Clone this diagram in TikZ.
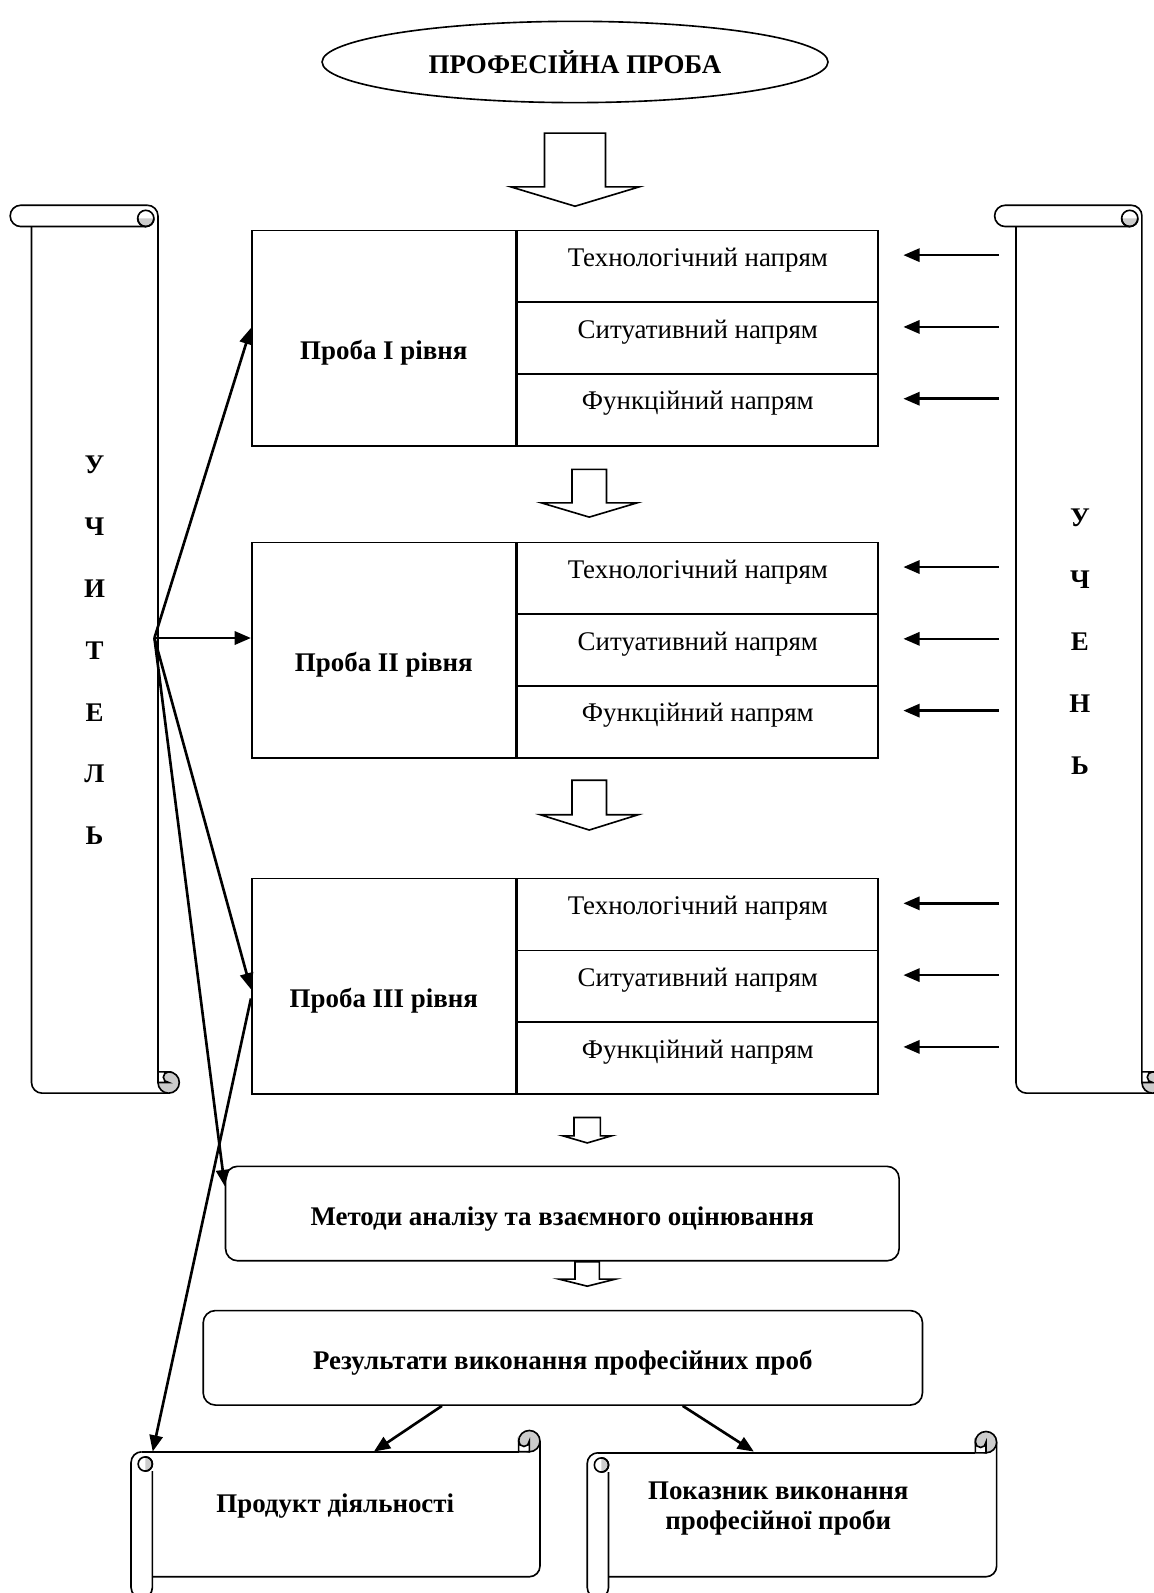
\documentclass[tikz,border=0pt]{standalone}
\usepackage{fontspec}
\setmainfont{Liberation Serif}
\usetikzlibrary{shapes.geometric,arrows.meta}
\definecolor{curlgray}{rgb}{0.8, 0.8, 0.8}

\newcommand{\schfont}{\fontsize{26.5}{31}\selectfont}
% roll sizes of the scrolls
\def\rollw{21}
\def\rollh{10.5}
\def\rollq{5.25}

% block arrow down: centre x, top, stem half width, shoulder, head half width, tip
\newcommand{\blockdown}[6]{%
  \draw[blk] ({#1-#3},#2) -- ({#1+#3},#2) -- ({#1+#3},#4) -- ({#1+#5},#4)
    -- (#1,#6) -- ({#1-#5},#4) -- ({#1-#3},#4) -- cycle;}

% vertical scroll: left, top, right, bottom
\newcommand{\vscroll}[4]{%
  \draw[scr] ({#1+\rollw},{#2+\rollw}) -- ({#1+\rollw},{#4-\rollh})
    arc[start angle=180,end angle=270,radius=\rollh pt] -- ({#3-\rollh},#4);
  \draw[scr] ({#3-\rollw-\rollh},#2) arc[start angle=90,end angle=0,radius=\rollh pt]
    -- ({#3-\rollw},{#4-\rollh});
  \draw[scr] ({#3-\rollw-\rollh},#2) -- ({#1+\rollh},#2)
    arc[start angle=90,end angle=270,radius=\rollh pt] -- ({#3-\rollw-12},{#2+\rollw});
  \filldraw[scr,fill=curlgray] ({#3-\rollw-20},{#2+\rollw-8}) arc[start angle=180,end angle=360,radius=8pt];
  \draw[scr] ({#3-\rollw-12},{#2+\rollw-8}) circle[radius=8pt];
  \filldraw[scr,fill=curlgray] ({#3-\rollh},{#4-\rollh}) circle[radius=\rollh pt];
  \filldraw[scr,fill=white] ({#3-\rollw},{#4-\rollh}) -- ({#3-\rollw},{#4-\rollw}) -- ({#3-\rollh},{#4-\rollw})
    arc[start angle=90,end angle=270,radius=\rollq pt] -- cycle;}

% horizontal scroll: left, top, right, bottom
\newcommand{\hscroll}[4]{%
  \draw[scr] ({#1+\rollh},{#2+\rollw}) -- ({#3-\rollw},{#2+\rollw});
  \draw[scr] (#3,{#2+\rollh}) -- (#3,{#4-\rollw-\rollh})
    arc[start angle=0,end angle=-90,radius=\rollh pt] -- ({#1+\rollw},{#4-\rollw});
  \draw[scr] ({#1+\rollw},{#2+\rollw+19}) -- ({#1+\rollw},{#4-\rollh})
    arc[start angle=0,end angle=-180,radius=\rollh pt] -- (#1,{#2+\rollw+\rollh})
    arc[start angle=180,end angle=90,radius=\rollh pt];
  \filldraw[scr,fill=curlgray] ({#1+\rollw-7},{#2+\rollw+5}) arc[start angle=90,end angle=-90,radius=7pt];
  \draw[scr] ({#1+\rollw-7},{#2+\rollw+12}) circle[radius=7pt];
  \filldraw[scr,fill=curlgray] ({#3-\rollh},{#2+\rollh}) circle[radius=\rollh pt];
  \filldraw[scr,fill=white] ({#3-\rollh},{#2+\rollw}) -- ({#3-\rollw},{#2+\rollw}) -- ({#3-\rollw},{#2+\rollh})
    arc[start angle=180,end angle=360,radius=\rollq pt] -- cycle;}

\begin{document}
\begin{tikzpicture}[x=1pt,y=-1pt,
  bx/.style={draw,line width=1.6pt,inner sep=0pt,font=\schfont},
  rowbox/.style={bx,minimum width=355pt,minimum height=70.67pt,text height=12pt,text depth=12pt},
  rbox/.style={bx,rounded corners=12pt,minimum height=93pt,text height=30pt,text depth=7pt,font=\schfont\bfseries},
  hd/.style={inner sep=0pt,font=\schfont\bfseries},
  arr/.style={line width=2.6pt,-{Triangle[length=16pt,width=13pt]}},
  blk/.style={line width=1.6pt},
  scr/.style={line width=1.6pt}]
\useasboundingbox[fill=white] (0,0) rectangle (1135,1568);

% scrolls
\vscroll{10}{202}{176.5}{1076}
\vscroll{979}{202}{1145}{1076}
\hscroll{129}{1408}{531.5}{1573}
\hscroll{578}{1409}{981}{1573}

\node[draw,ellipse,line width=1.6pt,minimum width=498pt,minimum height=80pt,font=\schfont\bfseries] (title) at (566,61) {ПРОФЕСІЙНА ПРОБА};

% the three levels
\foreach \n/\y/\lv in {1/226/I,2/533/II,3/864/III}{
  \node[bx,minimum width=260pt,minimum height=212pt,anchor=north west] (p\n) at (247,\y) {};
  \node[hd,anchor=base] (p\n-t) at ([yshift=-21pt]p\n.center) {Проба \lv\ рівня};
  \foreach \k/\w in {1/Технологічний,2/Ситуативний,3/Функційний}
    \node[rowbox,anchor=north west] (p\n-\k) at ([yshift={-(\k-1)*70.67pt}]p\n.north east) {\w\ напрям};
}

\node[rbox,minimum width=663pt] (metody) at (553.5,1194.5) {Методи аналізу та взаємного оцінювання};
\node[rbox,minimum width=708pt] (rez) at (554,1336.5) {Результати виконання професійних проб};

\node[inner sep=0pt,minimum width=381pt,minimum height=123pt] (prod) at (341,1490.5) {};
\node[hd] (prod-t) at (330,1482) {Продукт діяльності};
\node[inner sep=0pt,minimum width=382pt,minimum height=123pt] (pokaz) at (790,1490.5) {};
\node[hd,align=center,font=\fontsize{26.5}{30}\selectfont\bfseries] (pokaz-t) at (766,1485) {Показник виконання\\професійної проби};

\node[hd,align=center,font=\fontsize{26.5}{61}\selectfont\bfseries] (uchytel) at (93,640) {У\\Ч\\И\\Т\\Е\\Л\\Ь};
\node[hd,align=center,font=\fontsize{26.5}{61}\selectfont\bfseries] (uchen) at (1063,632) {У\\Ч\\Е\\Н\\Ь};
\coordinate (hub) at (152,628);

% block arrows
\blockdown{566}{131}{30}{184}{63}{203}
\blockdown{580}{462}{17}{495}{47}{509}
\blockdown{580}{768}{17}{802}{48}{817}
\blockdown{578}{1100}{13}{1118}{24}{1125}
\blockdown{578}{1242}{12}{1259}{28}{1266}

% teacher
\draw[arr] (hub) -- ([yshift=10pt]p1.west);
\draw[arr] (hub) -- (hub -| p2.west);
\draw[arr] (hub) -- ([yshift=-3pt]p3.west);
\draw[arr] (hub) -- ([yshift=27pt]metody.west);
\draw[arr] ([yshift=-12pt]p3.west) -- (prod.north west);

% pupil
\foreach \n in {1,2,3}
  \foreach \k in {1,2,3}
    \draw[arr] ([xshift=118pt,yshift=11pt]p\n-\k.east) -- ([xshift=24pt,yshift=11pt]p\n-\k.east);

\draw[arr] ([xshift=-119pt]rez.south) -- ([xshift=27pt]prod.north);
\draw[arr] ([xshift=118pt]rez.south) -- ([xshift=-48pt]pokaz.north);
\end{tikzpicture}
\end{document}
